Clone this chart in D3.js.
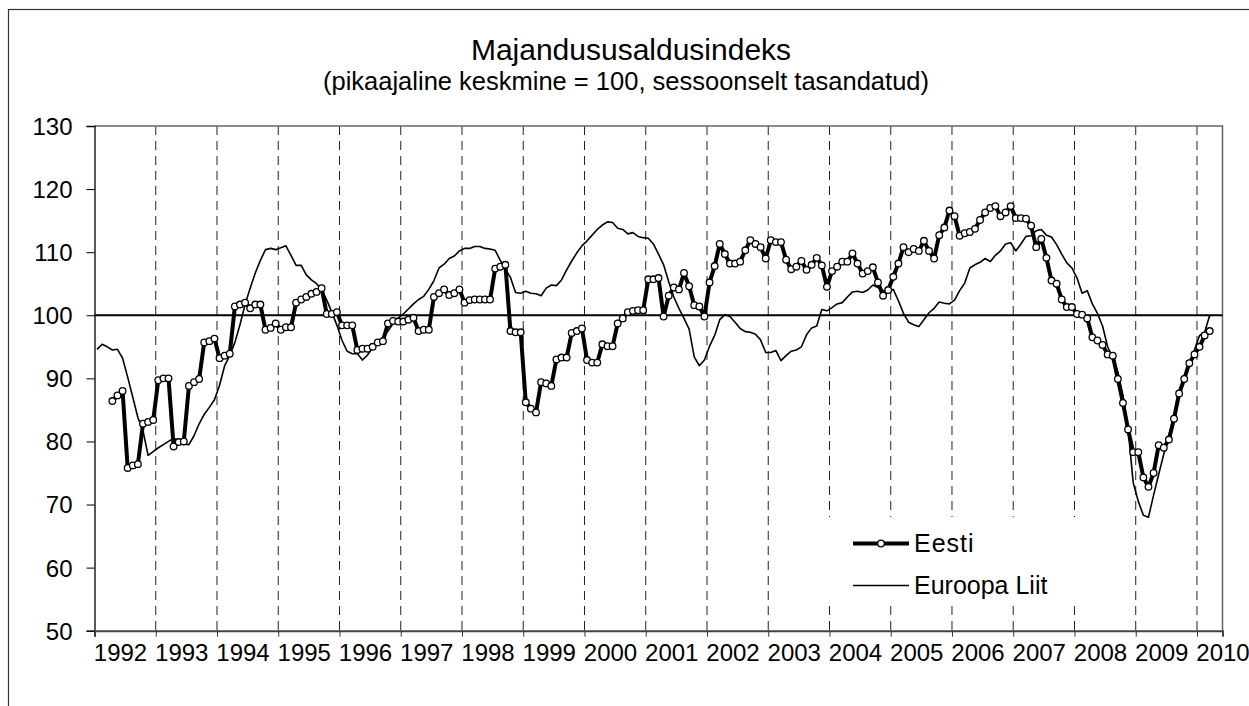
<!DOCTYPE html>
<html>
<head>
<meta charset="utf-8">
<script src="https://d3js.org/d3.v7.min.js"></script>
<style>
  body { margin: 0; background: #fff; }
  text { font-family: "Liberation Sans", Arial, sans-serif; fill: #000; }
</style>
</head>
<body>
<div id="chart"></div>
<script>
// monthly data, Jan 1992 .. Mar 2010
var startYear = 1992;
var years = [1992, 1993, 1994, 1995, 1996, 1997, 1998, 1999, 2000, 2001,
             2002, 2003, 2004, 2005, 2006, 2007, 2008, 2009, 2010];
var yTicks = [50, 60, 70, 80, 90, 100, 110, 120, 130];

var eesti = [null, null, null,
  86.4, 87.3, 88.0, 75.8, 76.2, 76.4, 82.8, 83.1, 83.4,
  89.7, 90.0, 90.0, 79.2, 79.9, 80.0, 88.8, 89.4, 89.9, 95.7, 95.9, 96.3,
  93.2, 93.6, 93.9, 101.4, 101.7, 102.0, 101.1, 101.7, 101.7, 97.7, 98.0, 98.7,
  97.7, 98.1, 98.1, 102.0, 102.5, 102.9, 103.4, 103.7, 104.3, 100.2, 100.2, 100.5,
  98.4, 98.4, 98.4, 94.5, 94.7, 94.7, 95.0, 95.7, 95.9, 98.7, 99.1, 99.0,
  99.0, 99.3, 99.6, 97.5, 97.7, 97.7, 102.9, 103.5, 104.1, 103.2, 103.5, 104.1,
  102.0, 102.4, 102.5, 102.5, 102.5, 102.5, 107.4, 107.7, 108.0, 97.5, 97.3, 97.3,
  86.2, 85.2, 84.6, 89.4, 89.2, 88.8, 93.0, 93.3, 93.3, 97.2, 97.5, 97.9,
  92.9, 92.5, 92.5, 95.4, 95.1, 95.1, 98.7, 99.5, 100.5, 100.7, 100.8, 100.8,
  105.7, 105.7, 105.9, 99.8, 103.1, 104.4, 104.1, 106.7, 104.6, 101.6, 101.4, 99.8,
  105.2, 107.8, 111.3, 109.7, 108.2, 108.2, 108.5, 110.3, 111.9, 111.3, 110.8, 109.0,
  111.9, 111.6, 111.6, 108.8, 107.3, 107.7, 108.6, 107.2, 108.0, 109.1, 107.9, 104.5,
  107.0, 107.7, 108.5, 108.5, 109.8, 108.2, 106.6, 107.0, 107.6, 105.2, 103.1, 104.0,
  106.1, 108.2, 110.8, 110.0, 110.5, 110.2, 111.8, 110.2, 109.0, 112.7, 113.9, 116.6,
  115.7, 112.6, 113.0, 113.2, 113.7, 115.1, 116.3, 117.0, 117.3, 115.7, 116.3, 117.3,
  115.4, 115.4, 115.3, 114.2, 110.8, 112.1, 109.1, 105.5, 105.0, 102.5, 101.3, 101.3,
  100.2, 100.1, 99.5, 96.5, 96.0, 95.3, 93.8, 93.6, 89.9, 86.1, 81.9, 78.3,
  78.3, 74.3, 72.8, 75.0, 79.4, 79.0, 80.3, 83.6, 87.6, 89.9, 92.4, 93.8,
  95.0, 96.8, 97.5];

var euroopa = [
  94.6, 95.4, 95.0, 94.5, 94.6, 93.2, 90.2, 87.0, 83.8, 81.7, 77.8, 78.4,
  79.0, 79.5, 80.0, 80.5, 80.2, 79.6, 79.5, 80.9, 82.8, 84.3, 85.4, 86.6,
  88.9, 92.0, 93.6, 95.7, 98.5, 101.7, 104.3, 106.7, 108.7, 110.4, 110.6, 110.4,
  110.7, 111.0, 109.5, 107.9, 107.9, 106.4, 105.6, 105.0, 104.1, 102.4, 100.5, 98.4,
  96.0, 94.3, 93.9, 93.9, 92.9, 93.7, 94.9, 95.6, 96.5, 97.5, 98.7, 99.5,
  100.2, 101.0, 101.8, 102.5, 103.0, 104.1, 105.5, 107.5, 108.1, 109.0, 109.4, 110.2,
  110.6, 110.6, 110.9, 110.9, 110.6, 110.5, 110.3, 108.7, 107.3, 106.0, 103.6, 103.5,
  103.8, 103.5, 103.4, 103.1, 104.3, 104.8, 104.7, 105.6, 107.2, 108.6, 109.9, 111.0,
  111.8, 112.7, 113.6, 114.3, 114.8, 114.7, 113.8, 113.6, 112.9, 113.1, 112.5, 112.3,
  112.2, 111.3, 109.7, 108.0, 105.3, 102.9, 101.1, 99.5, 97.8, 93.4, 92.0, 92.9,
  95.1, 96.8, 99.3, 100.1, 99.8, 98.9, 97.9, 97.4, 97.3, 97.0, 96.1, 94.1,
  94.1, 94.4, 92.8, 93.6, 94.3, 94.5, 95.0, 96.9, 98.0, 98.3, 100.9, 100.7,
  101.2, 101.8, 102.0, 102.9, 103.7, 103.8, 103.6, 104.0, 104.8, 104.4, 103.9, 103.8,
  104.1, 102.3, 100.3, 98.9, 98.5, 98.2, 99.3, 100.4, 101.1, 102.1, 101.9, 101.8,
  102.4, 103.9, 105.1, 107.5, 108.0, 108.4, 109.0, 108.5, 109.5, 110.2, 111.3, 111.5,
  110.2, 111.3, 112.5, 112.6, 113.4, 113.6, 112.7, 112.4, 111.2, 109.7, 108.3, 107.5,
  105.9, 103.5, 103.9, 101.8, 100.3, 98.3, 95.0, 93.3, 91.0, 87.3, 82.0, 73.5,
  70.5, 68.3, 68.0, 71.5, 74.8, 78.0, 81.0, 84.0, 87.0, 89.8, 92.2, 94.5,
  96.8, 97.3, 100.0];

var W = 1249, H = 706;
var plot = { left: 94.5, right: 1222.5, top: 126, bottom: 630.7 };
var nMonths = 221;

var svg = d3.select("#chart")
    .append("svg")
    .attr("width", W)
    .attr("height", H);

// outer chart frame (runs past the picture on right and bottom)
svg.append("rect")
    .attr("x", 8.5)
    .attr("y", 9.5)
    .attr("width", 1300)
    .attr("height", 800)
    .attr("fill", "none")
    .attr("stroke", "#333")
    .attr("stroke-width", 1.2);

var x = d3.scaleLinear()
    .domain([0, nMonths])
    .range([plot.left, plot.right]);

var y = d3.scaleLinear()
    .domain([50, 130])
    .range([plot.bottom, plot.top]);

function mx(i) { return x(i + 0.5); }

// titles
svg.append("text")
    .attr("x", 631)
    .attr("y", 60)
    .attr("text-anchor", "middle")
    .style("font-size", "30px")
    .text("Majandususaldusindeks");

svg.append("text")
    .attr("x", 626)
    .attr("y", 90)
    .attr("text-anchor", "middle")
    .style("font-size", "25.5px")
    .text("(pikaajaline keskmine = 100, sessoonselt tasandatud)");

// dashed year lines
svg.append("g")
    .selectAll("line")
    .data(years.slice(1))
    .enter()
    .append("line")
    .attr("x1", function (d) { return x((d - startYear) * 12); })
    .attr("x2", function (d) { return x((d - startYear) * 12); })
    .attr("y1", plot.top)
    .attr("y2", plot.bottom)
    .attr("stroke", "#222")
    .attr("stroke-width", 1)
    .attr("stroke-dasharray", "9,6");

// plot border top + right
svg.append("path")
    .attr("d", "M" + plot.left + "," + plot.top + "H" + plot.right + "V" + plot.bottom)
    .attr("fill", "none")
    .attr("stroke", "#666")
    .attr("stroke-width", 1.5);

// y axis
var yAxis = svg.append("g")
    .attr("transform", "translate(" + plot.left + ",0)")
    .call(d3.axisLeft(y).tickValues(yTicks).tickSize(8).tickPadding(14));
yAxis.select(".domain").attr("stroke", "#000").attr("stroke-width", 1.3);
yAxis.selectAll(".tick line").attr("stroke", "#000");
yAxis.selectAll("text")
    .attr("font-family", "Liberation Sans, Arial, sans-serif")
    .style("font-size", "24px")
    .attr("dy", "0.35em");

// x axis: ticks at each January, labels sit inside the year
var xAxis = svg.append("g")
    .attr("transform", "translate(0," + plot.bottom + ")")
    .call(d3.axisBottom(x)
        .tickValues(years.map(function (d) { return (d - startYear) * 12; }))
        .tickSize(6)
        .tickFormat(""));
xAxis.select(".domain").attr("stroke", "#444").attr("stroke-width", 2);
xAxis.selectAll(".tick line").attr("stroke", "#333");

svg.append("g")
    .selectAll("text")
    .data(years)
    .enter()
    .append("text")
    .attr("x", function (d) { return x((d - startYear) * 12) + 26; })
    .attr("y", 661)
    .attr("text-anchor", "middle")
    .style("font-size", "24px")
    .text(function (d) { return d; });

// long term average line
svg.append("line")
    .attr("x1", plot.left)
    .attr("x2", plot.right)
    .attr("y1", y(100))
    .attr("y2", y(100))
    .attr("stroke", "#000")
    .attr("stroke-width", 2);

// EU line
var line = d3.line()
    .defined(function (d) { return d != null; })
    .x(function (d, i) { return mx(i); })
    .y(function (d) { return y(d); });

svg.append("path")
    .datum(euroopa)
    .attr("d", line)
    .attr("fill", "none")
    .attr("stroke", "#000")
    .attr("stroke-width", 1.6)
    .attr("stroke-linejoin", "round");

// Estonia line + markers
svg.append("path")
    .datum(eesti)
    .attr("d", line)
    .attr("fill", "none")
    .attr("stroke", "#000")
    .attr("stroke-width", 4)
    .attr("stroke-linejoin", "round");

var pts = eesti.map(function (d, i) { return { i: i, v: d }; })
    .filter(function (d) { return d.v != null; });

svg.append("g")
    .selectAll("circle")
    .data(pts)
    .enter()
    .append("circle")
    .attr("cx", function (d) { return mx(d.i); })
    .attr("cy", function (d) { return y(d.v); })
    .attr("r", 3.3)
    .attr("fill", "#fff")
    .attr("stroke", "#000")
    .attr("stroke-width", 1.3);

// legend
var legend = svg.append("g");
legend.append("rect")
    .attr("x", 800)
    .attr("y", 517)
    .attr("width", 285)
    .attr("height", 88)
    .attr("fill", "#fff");

legend.append("line")
    .attr("x1", 853).attr("x2", 909)
    .attr("y1", 543.5).attr("y2", 543.5)
    .attr("stroke", "#000")
    .attr("stroke-width", 4);
legend.append("circle")
    .attr("cx", 881).attr("cy", 543.5)
    .attr("r", 3.3)
    .attr("fill", "#fff")
    .attr("stroke", "#000")
    .attr("stroke-width", 1.3);
legend.append("text")
    .attr("x", 914).attr("y", 552)
    .style("font-size", "25px")
    .style("letter-spacing", "1px")
    .text("Eesti");

legend.append("line")
    .attr("x1", 853).attr("x2", 909)
    .attr("y1", 585.5).attr("y2", 585.5)
    .attr("stroke", "#000")
    .attr("stroke-width", 1.6);
legend.append("text")
    .attr("x", 914).attr("y", 593.5)
    .style("font-size", "25px")
    .text("Euroopa Liit");
</script>
</body>
</html>
